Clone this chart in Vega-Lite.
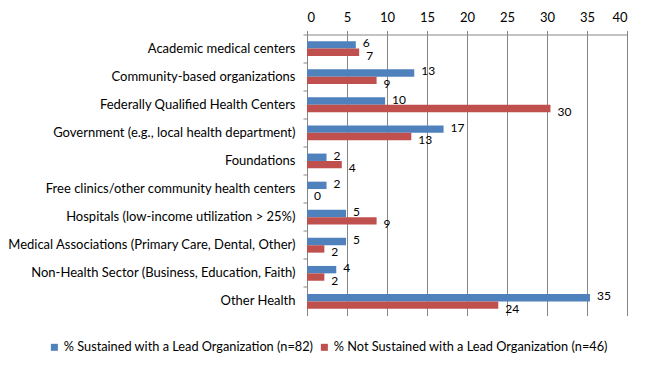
{
  "$schema": "https://vega.github.io/schema/vega-lite/v6.json",
  "width": 320,
  "height": 281,
  "autosize": {"type": "none"},
  "padding": {"left": 307, "top": 34.5, "right": 23, "bottom": 49.5},
  "background": "white",
  "config": {
    "font": "Lato",
    "view": {"stroke": null},
    "axis": {"labelFont": "Lato", "labelColor": "#000000"},
    "legend": {"labelFont": "Lato", "labelColor": "#000000"}
  },
  "data": {
    "values": [
      {"cat": "Academic medical centers", "series": "% Sustained with a Lead Organization (n=82)", "value": 6.10},
      {"cat": "Academic medical centers", "series": "% Not Sustained with a Lead Organization (n=46)", "value": 6.52},
      {"cat": "Community-based organizations", "series": "% Sustained with a Lead Organization (n=82)", "value": 13.41},
      {"cat": "Community-based organizations", "series": "% Not Sustained with a Lead Organization (n=46)", "value": 8.70},
      {"cat": "Federally Qualified Health Centers", "series": "% Sustained with a Lead Organization (n=82)", "value": 9.76},
      {"cat": "Federally Qualified Health Centers", "series": "% Not Sustained with a Lead Organization (n=46)", "value": 30.43},
      {"cat": "Government (e.g., local health department)", "series": "% Sustained with a Lead Organization (n=82)", "value": 17.07},
      {"cat": "Government (e.g., local health department)", "series": "% Not Sustained with a Lead Organization (n=46)", "value": 13.04},
      {"cat": "Foundations", "series": "% Sustained with a Lead Organization (n=82)", "value": 2.44},
      {"cat": "Foundations", "series": "% Not Sustained with a Lead Organization (n=46)", "value": 4.35},
      {"cat": "Free clinics/other community health centers", "series": "% Sustained with a Lead Organization (n=82)", "value": 2.44},
      {"cat": "Free clinics/other community health centers", "series": "% Not Sustained with a Lead Organization (n=46)", "value": 0},
      {"cat": "Hospitals (low-income utilization > 25%)", "series": "% Sustained with a Lead Organization (n=82)", "value": 4.88},
      {"cat": "Hospitals (low-income utilization > 25%)", "series": "% Not Sustained with a Lead Organization (n=46)", "value": 8.70},
      {"cat": "Medical Associations (Primary Care, Dental, Other)", "series": "% Sustained with a Lead Organization (n=82)", "value": 4.88},
      {"cat": "Medical Associations (Primary Care, Dental, Other)", "series": "% Not Sustained with a Lead Organization (n=46)", "value": 2.17},
      {"cat": "Non-Health Sector (Business, Education, Faith)", "series": "% Sustained with a Lead Organization (n=82)", "value": 3.66},
      {"cat": "Non-Health Sector (Business, Education, Faith)", "series": "% Not Sustained with a Lead Organization (n=46)", "value": 2.17},
      {"cat": "Other Health", "series": "% Sustained with a Lead Organization (n=82)", "value": 35.37},
      {"cat": "Other Health", "series": "% Not Sustained with a Lead Organization (n=46)", "value": 23.91}
    ]
  },
  "encoding": {
    "y": {
      "field": "cat",
      "type": "nominal",
      "sort": null,
      "scale": {"paddingInner": 0, "paddingOuter": 0},
      "axis": {
        "title": null,
        "bandPosition": 0,
        "labelFontSize": 13,
        "labelPadding": 8,
        "tickSize": 4,
        "domainColor": "#868686",
        "tickColor": "#868686",
        "labelLimit": 320
      }
    },
    "yOffset": {
      "field": "series",
      "type": "nominal",
      "sort": ["% Sustained with a Lead Organization (n=82)", "% Not Sustained with a Lead Organization (n=46)"],
      "scale": {"paddingInner": 0, "paddingOuter": 0.9}
    },
    "x": {
      "field": "value",
      "type": "quantitative",
      "scale": {"domain": [0, 40], "nice": false},
      "axis": {
        "orient": "top",
        "title": null,
        "values": [0, 5, 10, 15, 20, 25, 30, 35, 40],
        "grid": true,
        "gridColor": "#868686",
        "domainColor": "#868686",
        "tickColor": "#868686",
        "tickSize": 4,
        "labelFontSize": 13,
        "labelPadding": 6
      }
    }
  },
  "layer": [
    {
      "mark": {"type": "bar"},
      "encoding": {
        "color": {
          "field": "series",
          "type": "nominal",
          "sort": ["% Sustained with a Lead Organization (n=82)", "% Not Sustained with a Lead Organization (n=46)"],
          "scale": {"range": ["#4F81BD", "#C0504D"]},
          "legend": {
            "title": null,
            "orient": "none",
            "legendX": -259,
            "legendY": 306,
            "direction": "horizontal",
            "symbolType": "square",
            "symbolSize": 49,
            "labelFontSize": 12.75,
            "labelLimit": 0,
            "columnPadding": 4,
            "labelOffset": 3
          }
        }
      }
    },
    {
      "transform": [{"filter": "datum.series === '% Sustained with a Lead Organization (n=82)'"}],
      "mark": {"type": "text", "align": "left", "baseline": "middle", "dx": 7, "dy": -1.5, "fontSize": 12, "color": "#000000"},
      "encoding": {
        "text": {"field": "value", "type": "quantitative", "format": ".0f"}
      }
    },
    {
      "transform": [{"filter": "datum.series !== '% Sustained with a Lead Organization (n=82)'"}],
      "mark": {"type": "text", "align": "left", "baseline": "middle", "dx": 7, "dy": 3.5, "fontSize": 12, "color": "#000000"},
      "encoding": {
        "text": {"field": "value", "type": "quantitative", "format": ".0f"}
      }
    }
  ]
}
